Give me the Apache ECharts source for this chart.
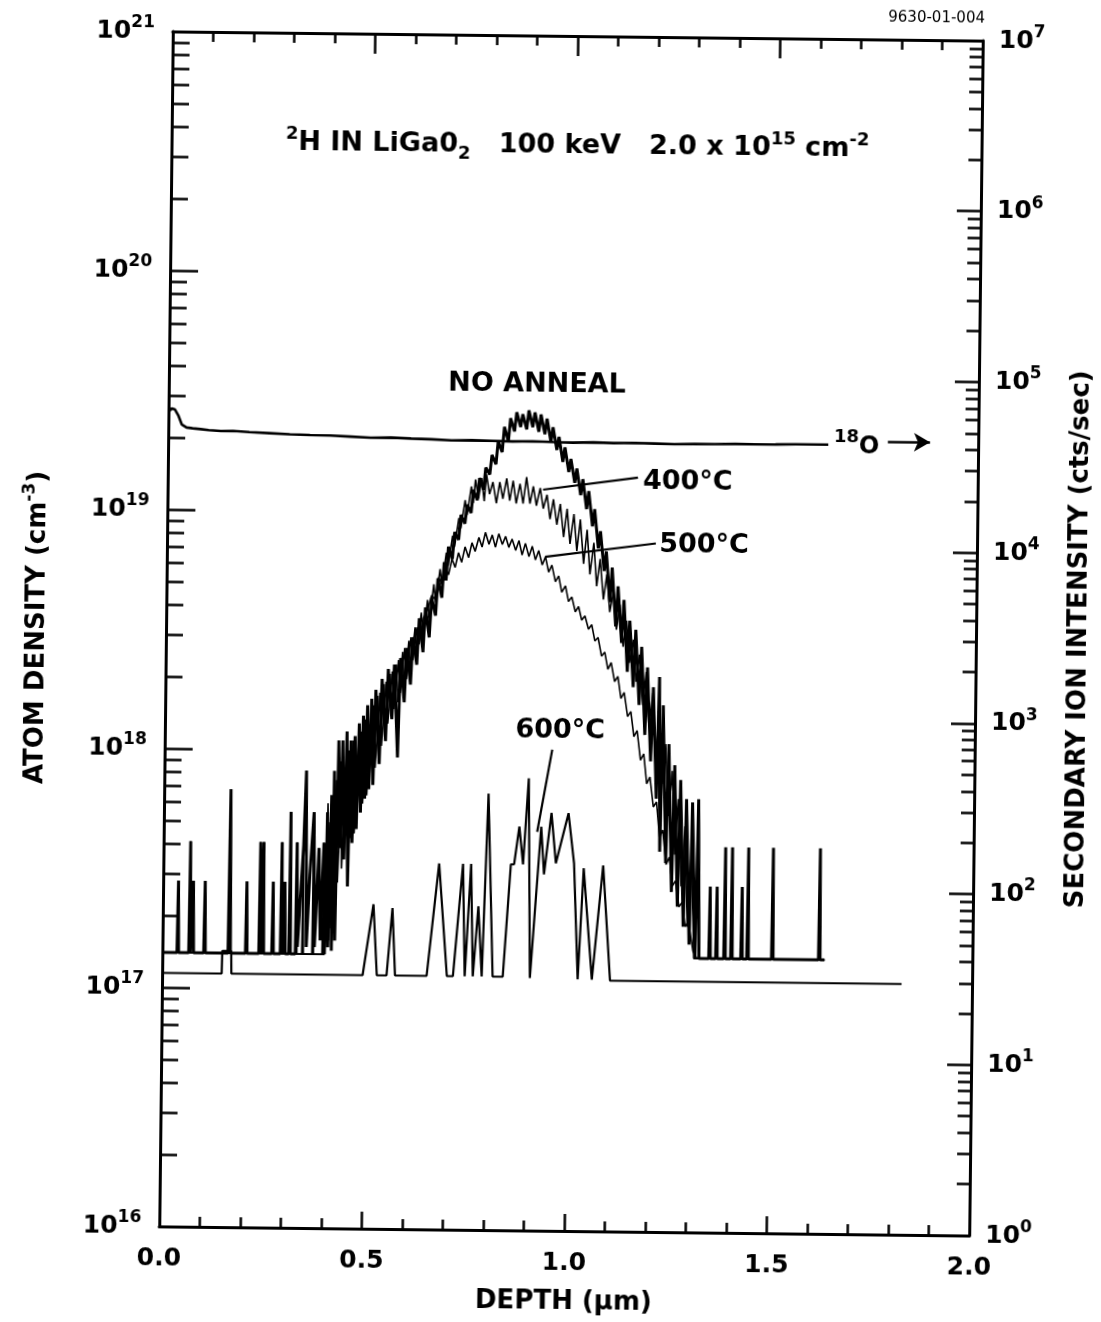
<!DOCTYPE html>
<html>
<head>
<meta charset="utf-8">
<script src="https://cdn.jsdelivr.net/npm/echarts@6/dist/echarts.min.js"></script>
<style>
  html, body { margin: 0; padding: 0; background: #fff; }
  /* the original is a slightly tilted scan */
  #main { width: 1101px; height: 1322px; transform: rotate(0.65deg); transform-origin: 571px 634px; }
</style>
</head>
<body>
<div id="main"></div>
<script>
const FONT = 'DejaVu Sans';

// depth (µm), atom density (cm^-3)
const noAnneal = [
  [0,1.4e17],[0.036,1.4e17],[0.038,2.8e17],[0.040,1.4e17],
  [0.065,1.4e17],[0.067,4.1e17],[0.069,1.4e17],[0.073,1.4e17],[0.075,2.8e17],[0.077,1.4e17],
  [0.102,1.4e17],[0.104,2.8e17],[0.106,1.4e17],
  [0.162,1.4e17],[0.165,6.8e17],[0.168,1.4e17],
  [0.205,1.4e17],[0.207,2.8e17],[0.209,1.4e17],
  [0.238,1.4e17],[0.240,4.1e17],[0.243,1.4e17],[0.248,4.1e17],[0.250,1.4e17],
  [0.270,1.4e17],[0.272,2.8e17],[0.274,1.4e17],
  [0.291,1.4e17],[0.293,4.1e17],[0.295,1.4e17],[0.301,2.8e17],[0.303,1.4e17],
  [0.312,1.4e17],[0.314,5.5e17],[0.316,1.4e17],
  [0.328,1.4e17],[0.330,4.1e17],[0.333,1.5e17],[0.346,4.0e17],[0.351,8.2e17],[0.355,1.5e17],
  [0.362,3.0e17],[0.371,5.5e17],[0.375,1.5e17],[0.384,3.9e17],[0.389,1.6e17],[0.396,4.1e17],
  [0.400,1.4e17],[0.404,5.5e17],[0.408,1.5e17],[0.414,6.5e17],[0.417,1.45e17],
  [0.420,8.2e17],[0.425,1.6e17],[0.430,1.1e18],[0.435,3.9e17],[0.440,1.1e18],[0.445,3.5e17],
  [0.450,1.2e18],[0.455,2.7e17],[0.460,1.1e18],[0.465,4.1e17],[0.470,1.15e18],[0.475,4.7e17],
  [0.480,1.3e18],[0.485,5.5e17],[0.490,1.4e18],[0.495,6.3e17],[0.500,1.55e18],[0.505,6.9e17],
  [0.510,1.65e18],[0.515,7.2e17],[0.520,1.8e18],[0.530,8.8e17],[0.535,2.0e18],[0.545,1.1e18],
  [0.550,2.2e18],[0.560,1.36e18],[0.565,2.3e18],[0.575,9.4e17],[0.580,2.45e18],[0.590,1.6e18],
  [0.595,2.7e18],[0.605,1.9e18],[0.610,3.0e18],[0.620,2.3e18],[0.625,3.6e18],[0.635,2.6e18],
  [0.640,4.0e18],[0.650,3.0e18],[0.655,4.4e18],[0.665,3.7e18],[0.670,5.3e18],[0.680,4.4e18],
  [0.685,6.2e18],[0.690,5.2e18],[0.695,7.2e18],[0.705,6.4e18],[0.710,8.3e18],[0.720,7.7e18],
  [0.725,9.8e18],[0.735,9.0e18],[0.740,1.08e19],[0.750,1.0e19],[0.755,1.25e19],[0.765,1.13e19],
  [0.770,1.40e19],[0.780,1.25e19],[0.785,1.55e19],[0.795,1.45e19],[0.800,1.75e19],[0.810,1.6e19],
  [0.815,2.0e19],[0.825,1.8e19],[0.830,2.3e19],[0.840,2.0e19],[0.845,2.5e19],[0.855,2.2e19],
  [0.860,2.65e19],[0.870,2.3e19],[0.875,2.6e19],[0.885,2.25e19],[0.890,2.7e19],[0.900,2.3e19],
  [0.905,2.65e19],[0.915,2.2e19],[0.920,2.6e19],[0.930,2.15e19],[0.935,2.5e19],[0.945,2.0e19],
  [0.950,2.3e19],[0.960,1.85e19],[0.965,2.1e19],[0.975,1.65e19],[0.980,1.9e19],[0.990,1.5e19],
  [0.995,1.7e19],[1.005,1.35e19],[1.010,1.55e19],[1.020,1.2e19],[1.025,1.4e19],[1.035,1.05e19],
  [1.040,1.25e19],[1.050,8.9e18],[1.055,1.05e19],[1.065,7.2e18],[1.070,8.5e18],[1.080,5.8e18],
  [1.085,7.0e18],[1.095,4.3e18],[1.100,6.0e18],[1.110,3.4e18],[1.115,5.0e18],[1.125,2.9e18],
  [1.130,4.4e18],[1.140,2.2e18],[1.145,3.6e18],[1.155,1.9e18],[1.160,3.3e18],[1.170,1.6e18],
  [1.175,2.8e18],[1.185,1.2e18],[1.190,2.3e18],[1.200,9.3e17],[1.205,1.9e18],[1.215,6.5e17],
  [1.220,2.1e18],[1.225,3.9e17],[1.230,1.6e18],[1.240,3.5e17],[1.245,1.1e18],[1.255,2.65e17],
  [1.260,9.0e17],[1.270,2.3e17],[1.275,7.8e17],[1.285,1.9e17],[1.290,6.5e17],[1.300,1.6e17],
  [1.305,6.3e17],[1.315,1.4e17],[1.320,6.5e17],[1.325,1.4e17],
  [1.349,1.4e17],[1.351,2.8e17],[1.353,1.4e17],[1.366,1.4e17],[1.368,2.8e17],[1.370,1.4e17],
  [1.386,1.4e17],[1.388,4.1e17],[1.390,1.4e17],[1.403,1.4e17],[1.405,4.1e17],[1.407,1.4e17],
  [1.428,1.4e17],[1.430,2.8e17],[1.432,1.4e17],[1.443,1.4e17],[1.445,4.1e17],[1.447,1.4e17],
  [1.504,1.4e17],[1.506,4.1e17],[1.508,1.4e17],[1.620,1.4e17],[1.622,4.1e17],[1.624,1.4e17],
  [1.635,1.4e17]
];

const anneal400 = [
  [0,1.4e17],[0.102,1.4e17],[0.104,2.8e17],[0.106,1.4e17],[0.205,1.4e17],[0.207,2.8e17],[0.209,1.4e17],
  [0.246,1.4e17],[0.248,4.1e17],[0.250,1.4e17],[0.291,1.4e17],[0.293,4.1e17],[0.295,1.4e17],
  [0.328,1.4e17],[0.330,4.1e17],[0.332,1.4e17],[0.369,1.4e17],[0.371,5.5e17],[0.373,1.4e17],
  [0.400,1.4e17],[0.405,6.0e17],[0.410,1.6e17],[0.420,7.0e17],[0.425,2.5e17],[0.435,9.0e17],
  [0.440,3.2e17],[0.450,1.0e18],[0.455,4.0e17],[0.465,1.1e18],[0.470,4.5e17],[0.480,1.2e18],
  [0.485,5.5e17],[0.495,1.35e18],[0.500,6.5e17],[0.510,1.5e18],[0.515,8.0e17],[0.525,1.7e18],
  [0.530,9.5e17],[0.540,1.9e18],[0.545,1.2e18],[0.555,2.1e18],[0.560,1.4e18],[0.570,2.3e18],
  [0.575,1.6e18],[0.585,2.6e18],[0.590,1.9e18],[0.600,2.9e18],[0.605,2.2e18],[0.615,3.3e18],
  [0.620,2.6e18],[0.630,3.8e18],[0.635,3.0e18],[0.645,4.3e18],[0.650,3.5e18],[0.660,5.0e18],
  [0.665,4.2e18],[0.675,5.8e18],[0.680,5.0e18],[0.690,6.8e18],[0.695,6.0e18],[0.705,8.0e18],
  [0.710,7.2e18],[0.720,9.5e18],[0.725,8.6e18],[0.735,1.13e19],[0.740,9.8e18],[0.750,1.29e19],
  [0.755,1.1e19],[0.760,1.38e19],[0.768,1.15e19],[0.775,1.4e19],[0.782,1.12e19],[0.787,1.45e19],
  [0.795,1.2e19],[0.803,1.35e19],[0.812,1.1e19],[0.820,1.35e19],[0.828,1.15e19],[0.837,1.4e19],
  [0.845,1.13e19],[0.853,1.37e19],[0.861,1.1e19],[0.870,1.33e19],[0.878,1.1e19],[0.886,1.42e19],
  [0.895,1.1e19],[0.903,1.3e19],[0.911,1.08e19],[0.920,1.28e19],[0.928,1.05e19],[0.937,1.2e19],
  [0.945,9.5e18],[0.953,1.15e19],[0.962,9.0e18],[0.970,1.1e19],[0.979,8.0e18],[0.987,1.05e19],
  [0.995,7.5e18],[1.004,1.0e19],[1.012,7.0e18],[1.020,9.5e18],[1.029,6.2e18],[1.037,8.6e18],
  [1.045,5.6e18],[1.054,7.6e18],[1.062,5.0e18],[1.070,6.5e18],[1.079,4.4e18],[1.087,5.6e18],
  [1.095,3.9e18],[1.104,4.8e18],[1.112,3.3e18],[1.120,4.2e18],[1.129,2.8e18],[1.137,3.6e18],
  [1.145,2.4e18],[1.154,3.0e18],[1.162,2.0e18],[1.170,2.6e18],[1.179,1.6e18],[1.187,2.2e18],
  [1.195,1.3e18],[1.204,1.8e18],[1.212,9.5e17],[1.220,1.4e18],[1.229,7.5e17],[1.237,1.1e18],
  [1.245,5.5e17],[1.254,8.5e17],[1.262,3.8e17],[1.270,6.5e17],[1.279,2.8e17],[1.287,5.0e17],
  [1.295,1.9e17],[1.304,3.9e17],[1.312,1.4e17],[1.635,1.4e17]
];

const anneal500 = [
  [0,1.4e17],[0.065,1.4e17],[0.067,4.1e17],[0.069,1.4e17],[0.163,1.4e17],[0.165,5.0e17],[0.167,1.4e17],
  [0.238,1.4e17],[0.240,4.1e17],[0.242,1.4e17],[0.299,1.4e17],[0.301,2.8e17],[0.303,1.4e17],
  [0.344,1.4e17],[0.346,4.1e17],[0.348,1.4e17],[0.394,1.4e17],[0.396,4.1e17],[0.398,1.4e17],
  [0.400,1.4e17],[0.410,5.0e17],[0.415,1.8e17],[0.425,7.5e17],[0.430,2.8e17],[0.440,9.0e17],
  [0.445,3.6e17],[0.455,1.0e18],[0.460,4.3e17],[0.470,1.1e18],[0.475,5.0e17],[0.485,1.2e18],
  [0.490,6.0e17],[0.500,1.4e18],[0.505,7.0e17],[0.515,1.55e18],[0.520,8.5e17],[0.530,1.75e18],
  [0.535,1.05e18],[0.545,1.95e18],[0.550,1.3e18],[0.560,2.15e18],[0.565,1.5e18],[0.575,2.4e18],
  [0.580,1.75e18],[0.590,2.7e18],[0.595,2.0e18],[0.605,3.0e18],[0.610,2.4e18],[0.620,3.3e18],
  [0.625,2.8e18],[0.635,3.6e18],[0.645,3.9e18],[0.655,4.5e18],[0.665,4.3e18],[0.672,5.35e18],
  [0.680,5.0e18],[0.688,5.9e18],[0.696,5.5e18],[0.704,6.4e18],[0.712,5.9e18],[0.720,6.8e18],
  [0.728,6.2e18],[0.736,7.2e18],[0.745,6.5e18],[0.753,7.5e18],[0.761,6.9e18],[0.770,7.9e18],
  [0.778,7.2e18],[0.786,8.3e18],[0.795,7.4e18],[0.803,8.1e18],[0.811,7.2e18],[0.819,8.2e18],
  [0.828,7.4e18],[0.836,8.0e18],[0.844,7.2e18],[0.852,7.8e18],[0.861,7.0e18],[0.869,7.7e18],
  [0.877,6.7e18],[0.885,7.5e18],[0.894,6.6e18],[0.902,7.3e18],[0.910,6.4e18],[0.918,7.0e18],
  [0.927,6.1e18],[0.935,6.6e18],[0.943,5.7e18],[0.951,6.1e18],[0.960,5.2e18],[0.968,5.5e18],
  [0.976,4.7e18],[0.985,5.0e18],[0.993,4.3e18],[1.001,4.5e18],[1.010,3.9e18],[1.018,4.1e18],
  [1.026,3.6e18],[1.034,3.75e18],[1.043,3.3e18],[1.051,3.45e18],[1.059,2.95e18],[1.067,3.05e18],
  [1.076,2.55e18],[1.084,2.65e18],[1.092,2.25e18],[1.100,2.4e18],[1.109,2.0e18],[1.117,2.1e18],
  [1.125,1.7e18],[1.133,1.8e18],[1.142,1.43e18],[1.150,1.5e18],[1.158,1.18e18],[1.166,1.25e18],
  [1.175,9.4e17],[1.183,1.0e18],[1.191,7.5e17],[1.199,8.0e17],[1.208,6.0e17],[1.216,6.3e17],
  [1.224,4.5e17],[1.232,4.8e17],[1.241,3.45e17],[1.249,3.7e17],[1.257,2.8e17],[1.265,2.95e17],
  [1.274,2.3e17],[1.282,2.4e17],[1.290,1.9e17],[1.298,2.0e17],[1.310,1.5e17],[1.320,1.4e17],
  [1.635,1.4e17]
];

const anneal600 = [
  [0,1.15e17],[0.147,1.15e17],[0.148,1.43e17],[0.170,1.43e17],[0.171,1.15e17],
  [0.495,1.15e17],[0.520,2.28e17],[0.530,1.15e17],[0.554,1.15e17],[0.567,2.2e17],[0.575,1.15e17],
  [0.653,1.15e17],[0.681,3.4e17],[0.703,1.15e17],[0.718,1.15e17],[0.740,3.4e17],[0.747,1.15e17],
  [0.760,3.4e17],[0.767,1.15e17],[0.779,2.26e17],[0.789,1.15e17],[0.801,6.7e17],[0.816,1.15e17],
  [0.841,1.15e17],[0.858,3.4e17],[0.866,3.4e17],[0.878,4.9e17],[0.888,3.4e17],[0.900,7.8e17],
  [0.908,1.14e17],[0.932,4.9e17],[0.940,3.1e17],[0.957,5.6e17],[0.969,3.45e17],[0.999,5.6e17],
  [1.014,3.45e17],[1.026,1.13e17],[1.038,3.3e17],[1.061,1.13e17],[1.086,3.4e17],[1.106,1.12e17],
  [1.826,1.12e17]
];

// depth (µm), 18O secondary ion intensity (cts/sec)
const oxygen18 = [
  [0,5.9e4],[0.008,6.2e4],[0.016,6.1e4],[0.025,5.6e4],[0.033,5.0e4],[0.045,4.8e4],[0.06,4.75e4],
  [0.08,4.7e4],[0.1,4.65e4],[0.13,4.6e4],[0.16,4.62e4],[0.2,4.55e4],[0.25,4.5e4],[0.3,4.45e4],
  [0.35,4.42e4],[0.4,4.4e4],[0.45,4.35e4],[0.5,4.3e4],[0.55,4.32e4],[0.6,4.28e4],[0.65,4.25e4],
  [0.7,4.2e4],[0.75,4.22e4],[0.8,4.2e4],[0.85,4.18e4],[0.9,4.2e4],[0.95,4.17e4],[1.0,4.15e4],
  [1.05,4.18e4],[1.1,4.15e4],[1.15,4.17e4],[1.2,4.15e4],[1.25,4.13e4],[1.3,4.15e4],[1.35,4.16e4],
  [1.4,4.18e4],[1.45,4.17e4],[1.5,4.18e4],[1.55,4.2e4],[1.6,4.2e4],[1.63,4.2e4]
];

// tick labels
const xTicks = [0, 0.5, 1.0, 1.5, 2.0];
const leftDecades = [1e16, 1e17, 1e18, 1e19, 1e20, 1e21];
const rightDecades = [1e0, 1e1, 1e2, 1e3, 1e4, 1e5, 1e6, 1e7];
const subDecade = (decades) => {
  const out = [];
  for (let i = 0; i < decades.length - 1; i++)
    for (let m = 2; m <= 9; m++) out.push(m * decades[i]);
  return out;
};
const leftMinor = subDecade(leftDecades);
const rightMinor = subDecade(rightDecades);

// annotations (in data units)
const noteText = ['NO ANNEAL', '400°C', '500°C', '600°C'];
const noteAt = [[0.909, 3.45e19], [1.284, 1.37e19], [1.326, 7.46e18], [0.976, 1.24e18]];
const leaders = [
  [[0.927, 1.26e19], [1.161, 1.43e19]],
  [[0.934, 6.6e18], [1.207, 7.6e18]],
  [[0.922, 4.66e17], [0.957, 1.03e18]]
];
const o18LabelAt = [1.700, 4.3e4];
const o18Arrow = [[1.777, 4.4e4], [1.881, 4.4e4]];

const black = '#000';
const bold = { fontFamily: FONT, fontWeight: 'bold', color: black };

const supRich = {
  b: { ...bold, fontSize: 25, lineHeight: 34 },
  s: { ...bold, fontSize: 17, lineHeight: 16, verticalAlign: 'top' }
};
const powLabel = (v) => '{b|10}{s|' + Math.round(Math.log10(v)) + '}';

const myEchart = echarts.init(document.getElementById('main'), null, { renderer: 'canvas' });

const lineSeries = (name, data, width, yIdx) => ({
  name: name,
  type: 'line',
  xAxisIndex: 0,
  yAxisIndex: yIdx,
  data: data,
  symbol: 'none',
  animation: false,
  silent: true,
  lineStyle: { color: black, width: width }
});

const s0 = lineSeries('NO ANNEAL', noAnneal, 3, 0);
s0.markPoint = {
  symbol: 'circle', symbolSize: 1, silent: true, animation: false,
  itemStyle: { color: 'rgba(0,0,0,0)' },
  label: { show: true, position: 'inside', formatter: '{b}', ...bold, fontSize: 27 },
  data: noteText.map((t, i) => ({ name: t, coord: noteAt[i] }))
};
s0.markLine = {
  silent: true, animation: false, symbol: ['none', 'none'],
  lineStyle: { color: black, width: 2.2, type: 'solid' },
  label: { show: false },
  data: leaders.map(p => [{ coord: p[0] }, { coord: p[1] }])
};

const sO = lineSeries('18O', oxygen18, 2.6, 2);
sO.markPoint = {
  symbol: 'circle', symbolSize: 1, silent: true, animation: false,
  itemStyle: { color: 'rgba(0,0,0,0)' },
  label: {
    show: true, position: 'inside', formatter: '{s|18}{o|O}',
    rich: {
      s: { ...bold, fontSize: 18, lineHeight: 30, verticalAlign: 'top', padding: [0, 0, 4, 0] },
      o: { ...bold, fontSize: 24, lineHeight: 30, padding: [8, 0, 0, 0] }
    }
  },
  data: [{ name: '18O', coord: o18LabelAt }]
};
sO.markLine = {
  silent: true, animation: false, symbol: ['none', 'arrow'], symbolSize: [14, 16],
  lineStyle: { color: black, width: 2.5, type: 'solid' },
  label: { show: false },
  data: [[{ coord: o18Arrow[0] }, { coord: o18Arrow[1] }]]
};

const xCommon = {
  type: 'value', min: 0, max: 2, interval: 0.5,
  splitLine: { show: false }, minorSplitLine: { show: false },
  axisLine: { show: true, onZero: false, lineStyle: { color: black, width: 3 } },
  minorTick: { show: true, splitNumber: 5, length: 10, lineStyle: { color: black, width: 2.5 } }
};

// the top of each log axis is nudged up a hair so the last decade label is kept
const yMajor = (pos, min, max, ticks, len, margin) => ({
  type: 'log', logBase: 10, min: min, max: max * 1.000001, position: pos, offset: 0,
  splitLine: { show: false },
  axisLine: { show: true, lineStyle: { color: black, width: 3 } },
  axisTick: { show: true, inside: true, length: len, customValues: ticks, lineStyle: { color: black, width: 2.5 } },
  axisLabel: {
    show: true, customValues: ticks, formatter: powLabel, margin: margin,
    showMinLabel: true, showMaxLabel: true, rich: supRich
  }
});
const yMinor = (pos, min, max, ticks, len) => ({
  type: 'log', logBase: 10, min: min, max: max * 1.000001, position: pos, offset: 0,
  splitLine: { show: false },
  axisLine: { show: false },
  axisTick: { show: true, inside: true, length: len, customValues: ticks, lineStyle: { color: black, width: 2.5 } },
  axisLabel: { show: false }
});

const yLeft = yMajor('left', 1e16, 1e21, leftDecades, 28, 18);
yLeft.name = '{a|ATOM DENSITY (cm}{s|-3}{a|)}';
yLeft.nameLocation = 'middle';
yLeft.nameRotate = 90;
yLeft.nameGap = 112;
yLeft.nameTextStyle = {
  rich: {
    a: { ...bold, fontSize: 26, lineHeight: 34 },
    s: { ...bold, fontSize: 17, lineHeight: 16, verticalAlign: 'top' }
  }
};

const yRight = yMajor('right', 1, 1e7, rightDecades, 24, 16);
yRight.name = 'SECONDARY ION INTENSITY (cts/sec)';
yRight.nameLocation = 'middle';
yRight.nameRotate = 90;
yRight.nameGap = 90;
yRight.nameTextStyle = { ...bold, fontSize: 26 };

const option = {
  backgroundColor: '#fff',
  animation: false,
  grid: { left: 166, top: 36, width: 810, height: 1195, containLabel: false, outerBoundsMode: 'none' },
  xAxis: [
    {
      ...xCommon, position: 'bottom',
      axisTick: { show: true, inside: true, length: 17, lineStyle: { color: black, width: 2.5 } },
      axisLabel: {
        show: true, margin: 20, ...bold, fontSize: 25, showMinLabel: true, showMaxLabel: true,
        customValues: xTicks, formatter: (v) => v.toFixed(1)
      },
      name: 'DEPTH (µm)', nameLocation: 'middle', nameGap: 58,
      nameTextStyle: { ...bold, fontSize: 26 }
    },
    {
      ...xCommon, position: 'top',
      axisTick: { show: true, inside: true, length: 20, lineStyle: { color: black, width: 2.5 } },
      axisLabel: { show: false }
    }
  ],
  yAxis: [
    yLeft,
    yMinor('left', 1e16, 1e21, leftMinor, 17),
    yRight,
    yMinor('right', 1, 1e7, rightMinor, 13)
  ],
  graphic: [
    {
      type: 'text', x: 572, y: 146, silent: true,
      style: {
        text: '{s|2}{b|H IN LiGa0}{d|2}{b|   100 keV   2.0 x 10}{s|15}{b| cm}{s|-2}',
        align: 'center', verticalAlign: 'middle',
        rich: {
          b: { ...bold, fontSize: 27, lineHeight: 36 },
          s: { ...bold, fontSize: 18, lineHeight: 17, verticalAlign: 'top' },
          d: { ...bold, fontSize: 18, lineHeight: 17, verticalAlign: 'bottom' }
        }
      }
    },
    {
      type: 'text', x: 978, y: 14, silent: true,
      style: { text: '9630-01-004', align: 'right', verticalAlign: 'middle', fontFamily: FONT, fontSize: 15, fill: black }
    }
  ],
  series: [
    s0,
    lineSeries('400°C', anneal400, 1.6, 0),
    lineSeries('500°C', anneal500, 1.6, 0),
    lineSeries('600°C', anneal600, 2.2, 0),
    sO
  ]
};

myEchart.setOption(option, true);
</script>
</body>
</html>
